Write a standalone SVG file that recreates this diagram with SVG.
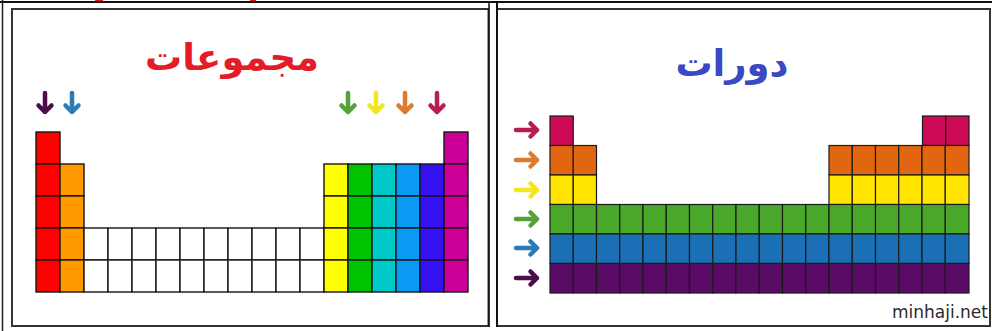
<svg xmlns="http://www.w3.org/2000/svg" xmlns:xlink="http://www.w3.org/1999/xlink" width="992" height="331" viewBox="0 0 992 331">
<style>
.c{stroke:#151515;stroke-width:1.4}
.r{stroke:#1a1a1a;stroke-width:1.2}
.t{font-family:"DejaVu Sans",sans-serif;font-weight:bold;text-anchor:middle}
</style>
<defs>
<g id="ad" fill="none" stroke="currentColor" stroke-width="4.5" stroke-linecap="round" stroke-linejoin="round">
<path d="M0,-10 V9 M-6.5,2.5 L0,9 L6.5,2.5"/>
</g>
<g id="ar" fill="none" stroke="currentColor" stroke-width="4.5" stroke-linecap="round" stroke-linejoin="round">
<path d="M-11,0 H10 M3.5,-6.5 L10,0 L3.5,6.5"/>
</g>
</defs>
<rect width="992" height="331" fill="#fff"/>
<g id="frame" fill="none">
<line x1="0" y1="2" x2="992" y2="2" stroke="#111" stroke-width="2"/>
<line x1="2.5" y1="0" x2="2.5" y2="331" stroke="#222" stroke-width="1.5"/>
<line x1="95" y1="0.5" x2="103" y2="0.5" stroke="#e0141e" stroke-width="1.5"/>
<line x1="250" y1="0.5" x2="256" y2="0.5" stroke="#e0141e" stroke-width="1.5"/>
<rect x="12" y="9" width="476.5" height="317" stroke="#333" stroke-width="2"/>
<rect x="497" y="9" width="493" height="317" stroke="#333" stroke-width="2"/>
<line x1="497" y1="3" x2="497" y2="327" stroke="#111" stroke-width="2"/>
<line x1="489" y1="3" x2="489" y2="327" stroke="#111" stroke-width="1.5"/>
</g>
<g id="groups-panel">
<text id="title-groups" class="t" x="232" y="70" font-size="37" fill="#e41c28">مجموعات</text>
<g id="group-arrows">
<use xlink:href="#ad" x="45" y="103" color="#4a0f4a"/>
<use xlink:href="#ad" x="72" y="103" color="#2b7bb9"/>
<use xlink:href="#ad" x="348" y="103" color="#56a03a"/>
<use xlink:href="#ad" x="376" y="103" color="#f2e61e"/>
<use xlink:href="#ad" x="405" y="103" color="#e07b2d"/>
<use xlink:href="#ad" x="437" y="103" color="#b81d4f"/>
</g>
<g id="group-grid" class="c">
<g fill="#ff0000"><rect x="36" y="132" width="24" height="32"/><rect x="36" y="164" width="24" height="32"/><rect x="36" y="196" width="24" height="32"/><rect x="36" y="228" width="24" height="32"/><rect x="36" y="260" width="24" height="32"/></g>
<g fill="#ff9900"><rect x="60" y="164" width="24" height="32"/><rect x="60" y="196" width="24" height="32"/><rect x="60" y="228" width="24" height="32"/><rect x="60" y="260" width="24" height="32"/></g>
<g fill="#fff">
<rect x="84" y="228" width="24" height="32"/><rect x="84" y="260" width="24" height="32"/>
<rect x="108" y="228" width="24" height="32"/><rect x="108" y="260" width="24" height="32"/>
<rect x="132" y="228" width="24" height="32"/><rect x="132" y="260" width="24" height="32"/>
<rect x="156" y="228" width="24" height="32"/><rect x="156" y="260" width="24" height="32"/>
<rect x="180" y="228" width="24" height="32"/><rect x="180" y="260" width="24" height="32"/>
<rect x="204" y="228" width="24" height="32"/><rect x="204" y="260" width="24" height="32"/>
<rect x="228" y="228" width="24" height="32"/><rect x="228" y="260" width="24" height="32"/>
<rect x="252" y="228" width="24" height="32"/><rect x="252" y="260" width="24" height="32"/>
<rect x="276" y="228" width="24" height="32"/><rect x="276" y="260" width="24" height="32"/>
<rect x="300" y="228" width="24" height="32"/><rect x="300" y="260" width="24" height="32"/>
</g>
<g fill="#ffff00"><rect x="324" y="164" width="24" height="32"/><rect x="324" y="196" width="24" height="32"/><rect x="324" y="228" width="24" height="32"/><rect x="324" y="260" width="24" height="32"/></g>
<g fill="#00c400"><rect x="348" y="164" width="24" height="32"/><rect x="348" y="196" width="24" height="32"/><rect x="348" y="228" width="24" height="32"/><rect x="348" y="260" width="24" height="32"/></g>
<g fill="#00c8c8"><rect x="372" y="164" width="24" height="32"/><rect x="372" y="196" width="24" height="32"/><rect x="372" y="228" width="24" height="32"/><rect x="372" y="260" width="24" height="32"/></g>
<g fill="#0a99f5"><rect x="396" y="164" width="24" height="32"/><rect x="396" y="196" width="24" height="32"/><rect x="396" y="228" width="24" height="32"/><rect x="396" y="260" width="24" height="32"/></g>
<g fill="#3311f0"><rect x="420" y="164" width="24" height="32"/><rect x="420" y="196" width="24" height="32"/><rect x="420" y="228" width="24" height="32"/><rect x="420" y="260" width="24" height="32"/></g>
<g fill="#cc0099"><rect x="444" y="132" width="24" height="32"/><rect x="444" y="164" width="24" height="32"/><rect x="444" y="196" width="24" height="32"/><rect x="444" y="228" width="24" height="32"/><rect x="444" y="260" width="24" height="32"/></g>
</g>
</g>
<g id="periods-panel">
<text id="title-periods" class="t" x="732" y="76" font-size="37" fill="#3a48c4">دورات</text>
<g id="period-arrows">
<use xlink:href="#ar" x="527" y="130" color="#b81d4f"/>
<use xlink:href="#ar" x="527" y="160" color="#e07b2d"/>
<use xlink:href="#ar" x="527" y="190" color="#f2e61e"/>
<use xlink:href="#ar" x="527" y="219" color="#56a03a"/>
<use xlink:href="#ar" x="527" y="248" color="#2b7bb9"/>
<use xlink:href="#ar" x="527" y="278" color="#4a0f4a"/>
</g>
<g id="period-grid" class="r">
<g fill="#cc0a55"><rect x="550" y="116" width="23.25" height="29.5"/><rect x="922.5" y="116" width="23.25" height="29.5"/><rect x="945.75" y="116" width="23.25" height="29.5"/></g>
<g fill="#e2650f"><rect x="550" y="145.5" width="23.25" height="29.5"/><rect x="573.25" y="145.5" width="23.25" height="29.5"/><rect x="829" y="145.5" width="23.25" height="29.5"/><rect x="852.25" y="145.5" width="23.25" height="29.5"/><rect x="875.5" y="145.5" width="23.25" height="29.5"/><rect x="898.75" y="145.5" width="23.25" height="29.5"/><rect x="922" y="145.5" width="23.25" height="29.5"/><rect x="945.25" y="145.5" width="23.75" height="29.5"/></g>
<g fill="#ffe500"><rect x="550" y="175" width="23.25" height="29.5"/><rect x="573.25" y="175" width="23.25" height="29.5"/><rect x="829" y="175" width="23.25" height="29.5"/><rect x="852.25" y="175" width="23.25" height="29.5"/><rect x="875.5" y="175" width="23.25" height="29.5"/><rect x="898.75" y="175" width="23.25" height="29.5"/><rect x="922" y="175" width="23.25" height="29.5"/><rect x="945.25" y="175" width="23.75" height="29.5"/></g>
<g fill="#4aa82a">
<rect x="550" y="204.5" width="23.25" height="29.5"/><rect x="573.25" y="204.5" width="23.25" height="29.5"/><rect x="596.5" y="204.5" width="23.25" height="29.5"/><rect x="619.75" y="204.5" width="23.25" height="29.5"/><rect x="643" y="204.5" width="23.25" height="29.5"/><rect x="666.25" y="204.5" width="23.25" height="29.5"/><rect x="689.5" y="204.5" width="23.25" height="29.5"/><rect x="712.75" y="204.5" width="23.25" height="29.5"/><rect x="736" y="204.5" width="23.25" height="29.5"/><rect x="759.25" y="204.5" width="23.25" height="29.5"/><rect x="782.5" y="204.5" width="23.25" height="29.5"/><rect x="805.75" y="204.5" width="23.25" height="29.5"/><rect x="829" y="204.5" width="23.25" height="29.5"/><rect x="852.25" y="204.5" width="23.25" height="29.5"/><rect x="875.5" y="204.5" width="23.25" height="29.5"/><rect x="898.75" y="204.5" width="23.25" height="29.5"/><rect x="922" y="204.5" width="23.25" height="29.5"/><rect x="945.25" y="204.5" width="23.75" height="29.5"/>
</g>
<g fill="#1a6fb5">
<rect x="550" y="234" width="23.25" height="29.5"/><rect x="573.25" y="234" width="23.25" height="29.5"/><rect x="596.5" y="234" width="23.25" height="29.5"/><rect x="619.75" y="234" width="23.25" height="29.5"/><rect x="643" y="234" width="23.25" height="29.5"/><rect x="666.25" y="234" width="23.25" height="29.5"/><rect x="689.5" y="234" width="23.25" height="29.5"/><rect x="712.75" y="234" width="23.25" height="29.5"/><rect x="736" y="234" width="23.25" height="29.5"/><rect x="759.25" y="234" width="23.25" height="29.5"/><rect x="782.5" y="234" width="23.25" height="29.5"/><rect x="805.75" y="234" width="23.25" height="29.5"/><rect x="829" y="234" width="23.25" height="29.5"/><rect x="852.25" y="234" width="23.25" height="29.5"/><rect x="875.5" y="234" width="23.25" height="29.5"/><rect x="898.75" y="234" width="23.25" height="29.5"/><rect x="922" y="234" width="23.25" height="29.5"/><rect x="945.25" y="234" width="23.75" height="29.5"/>
</g>
<g fill="#5a0b66">
<rect x="550" y="263.5" width="23.25" height="29.5"/><rect x="573.25" y="263.5" width="23.25" height="29.5"/><rect x="596.5" y="263.5" width="23.25" height="29.5"/><rect x="619.75" y="263.5" width="23.25" height="29.5"/><rect x="643" y="263.5" width="23.25" height="29.5"/><rect x="666.25" y="263.5" width="23.25" height="29.5"/><rect x="689.5" y="263.5" width="23.25" height="29.5"/><rect x="712.75" y="263.5" width="23.25" height="29.5"/><rect x="736" y="263.5" width="23.25" height="29.5"/><rect x="759.25" y="263.5" width="23.25" height="29.5"/><rect x="782.5" y="263.5" width="23.25" height="29.5"/><rect x="805.75" y="263.5" width="23.25" height="29.5"/><rect x="829" y="263.5" width="23.25" height="29.5"/><rect x="852.25" y="263.5" width="23.25" height="29.5"/><rect x="875.5" y="263.5" width="23.25" height="29.5"/><rect x="898.75" y="263.5" width="23.25" height="29.5"/><rect x="922" y="263.5" width="23.25" height="29.5"/><rect x="945.25" y="263.5" width="23.75" height="29.5"/>
</g>
</g>
<text id="credit" x="988" y="318" font-family="DejaVu Sans, sans-serif" font-size="17" fill="#2a2a2a" text-anchor="end">minhaji.net</text>
</g>
</svg>
